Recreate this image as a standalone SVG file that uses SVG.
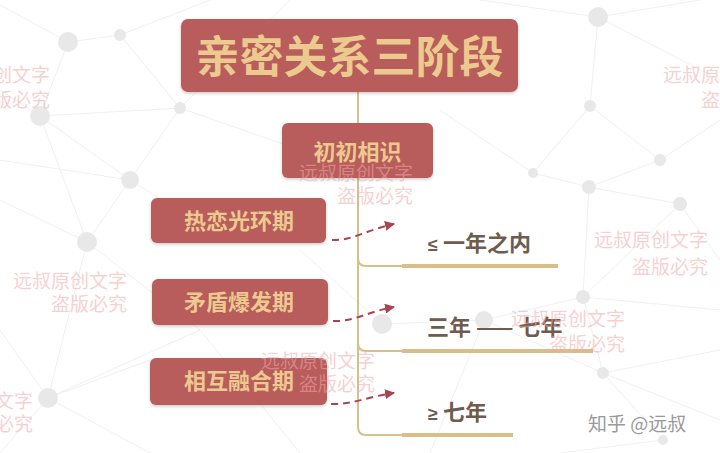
<svg xmlns="http://www.w3.org/2000/svg" width="720" height="453" viewBox="0 0 720 453">
<defs>
<style>
.bgl{stroke:#f0f0f0;stroke-width:1;fill:none}
.dot{fill:#e8e8e8}
.box{fill:#b95b5b}
.t1{font-family:"Noto Sans CJK SC","Noto Sans",sans-serif;font-weight:700;fill:#ebc98f;text-anchor:middle}
.st{font-family:"Noto Sans CJK SC","Noto Sans",sans-serif;font-weight:700;font-size:22px;fill:#6f5c4e}
.wm{font-family:"Noto Sans CJK SC",sans-serif;font-size:19px;fill:#f0a9a9;fill-opacity:0.55;text-anchor:end}
.thin{stroke:#d8c08a;stroke-width:2;fill:none}
.thick{stroke:#d9be86;stroke-width:4;fill:none}
.dash{stroke:#a8454e;stroke-width:2;stroke-dasharray:7 5;fill:none}
</style>
<marker id="ah" viewBox="0 0 10 10" refX="9" refY="5" markerWidth="5" markerHeight="5" orient="auto">
<path d="M0,0 L10,5 L0,10 z" fill="#a8454e"/>
</marker>
<filter id="sh" x="-10%" y="-20%" width="120%" height="150%">
<feDropShadow dx="0" dy="1.5" stdDeviation="1.5" flood-color="#000" flood-opacity="0.2"/>
</filter>
</defs>
<rect width="720" height="453" fill="#ffffff"/>
<g id="background">
<path class="bgl" d="M0,5 L68,42 L120,35 L180,108 L40,116 L68,42 M120,35 L210,0 M40,116 L130,180 L87,242 L40,116 M130,180 L180,108 L300,150 M180,108 L290,0 M0,160 L130,180 M87,242 L0,200 M87,242 L200,330 L48,398 L87,242 M48,398 L0,453 M48,398 L150,453 M200,330 L300,453 M0,330 L48,398 L150,360 M382,324 L484,320 L583,297 L680,204 L589,187 L583,297 M589,187 L660,160 L590,106 L598,17 L720,80 M598,17 L480,0 M590,106 L533,173 L589,187 M660,160 L720,120 M680,204 L720,260 M583,297 L603,373 L663,440 M603,373 L720,350 M603,373 L720,420 M484,320 L603,373 M382,324 L300,250 M484,320 L430,453 M663,440 L560,453 M533,173 L440,110 M598,17 L700,0 M583,297 L720,310 M130,180 L210,230 M40,116 L0,90"/>
<circle class="dot" cx="68" cy="42" r="10"/>
<circle class="dot" cx="120" cy="35" r="6"/>
<circle class="dot" cx="40" cy="116" r="10"/>
<circle class="dot" cx="180" cy="108" r="6"/>
<circle class="dot" cx="130" cy="180" r="9"/>
<circle class="dot" cx="87" cy="242" r="10"/>
<circle class="dot" cx="48" cy="398" r="10"/>
<circle class="dot" cx="382" cy="324" r="10"/>
<circle class="dot" cx="484" cy="320" r="9"/>
<circle class="dot" cx="583" cy="297" r="7"/>
<circle class="dot" cx="598" cy="17" r="10"/>
<circle class="dot" cx="590" cy="106" r="6"/>
<circle class="dot" cx="660" cy="160" r="6"/>
<circle class="dot" cx="589" cy="187" r="7"/>
<circle class="dot" cx="680" cy="204" r="7"/>
<circle class="dot" cx="533" cy="173" r="5"/>
<circle class="dot" cx="603" cy="373" r="6"/>
<circle class="dot" cx="663" cy="440" r="5"/>
</g>
<g id="connectors">
<path class="thin" d="M358,92 L358,427 Q358,435 366,435 L402,435"/>
<path class="thin" d="M358,258 Q358,266 366,266 L402,266"/>
<path class="thin" d="M358,343 Q358,351 366,351 L402,351"/>
<path class="thick" d="M402,266 L558,266"/>
<path class="thick" d="M402,351 L593,351"/>
<path class="thick" d="M402,435 L513,435"/>
<path class="dash" d="M332,240 C352,241 366,230 394,224" marker-end="url(#ah)"/>
<path class="dash" d="M333,321 C353,322 367,312 394,307" marker-end="url(#ah)"/>
<path class="dash" d="M331,404 C351,405 366,397 394,393" marker-end="url(#ah)"/>
</g>
<g id="title">
<rect class="box" x="181" y="19" width="337" height="73" rx="7" filter="url(#sh)"/>
<text class="t1" x="349.5" y="73" font-size="44">亲密关系三阶段</text>
</g>
<g id="node-chuchu">
<rect class="box" x="282" y="123" width="151" height="55" rx="6" filter="url(#sh)"/>
<text class="t1" x="357.5" y="160" font-size="22">初初相识</text>
</g>
<g id="node-relian">
<rect class="box" x="151" y="198" width="175" height="45" rx="6" filter="url(#sh)"/>
<text class="t1" x="239" y="229" font-size="22">热恋光环期</text>
</g>
<g id="node-maodun">
<rect class="box" x="152" y="279" width="176" height="46" rx="6" filter="url(#sh)"/>
<text class="t1" x="239" y="310" font-size="22">矛盾爆发期</text>
</g>
<g id="node-ronghe">
<rect class="box" x="150" y="358" width="177" height="47" rx="6" filter="url(#sh)"/>
<text class="t1" x="239" y="389" font-size="22">相互融合期</text>
</g>
<g id="stage-1">
<text class="st" x="428" y="251"><tspan font-family="Liberation Sans" font-size="18">≤ </tspan>一年之内</text>
</g>
<g id="stage-2">
<text class="st" x="427" y="335">三年 —— 七年</text>
</g>
<g id="stage-3">
<text class="st" x="428" y="420"><tspan font-family="Liberation Sans" font-size="18">≥ </tspan>七年</text>
</g>
<g id="watermarks">
<text class="wm" x="50" y="82">远叔原创文字</text>
<text class="wm" x="50" y="107">盗版必究</text>
<text class="wm" x="777" y="82">远叔原创文字</text>
<text class="wm" x="777" y="107">盗版必究</text>
<text class="wm" x="708" y="247" font-size="20">远叔原创文字</text>
<text class="wm" x="708" y="274" font-size="20">盗版必究</text>
<text class="wm" x="413" y="180" font-size="20">远叔原创文字</text>
<text class="wm" x="413" y="203" font-size="20">盗版必究</text>
<text class="wm" x="127" y="288" font-size="20">远叔原创文字</text>
<text class="wm" x="127" y="311" font-size="20">盗版必究</text>
<text class="wm" x="625" y="326" font-size="20">远叔原创文字</text>
<text class="wm" x="625" y="351" font-size="20">盗版必究</text>
<text class="wm" x="375" y="368" font-size="20">远叔原创文字</text>
<text class="wm" x="375" y="391" font-size="20">盗版必究</text>
<text class="wm" x="33" y="408" font-size="20">远叔原创文字</text>
<text class="wm" x="33" y="431" font-size="20">盗版必究</text>
<text x="588" y="431" font-family="Noto Sans CJK SC,sans-serif" font-size="19" fill="#9a9a9a">知乎 @远叔</text>
</g>
</svg>
